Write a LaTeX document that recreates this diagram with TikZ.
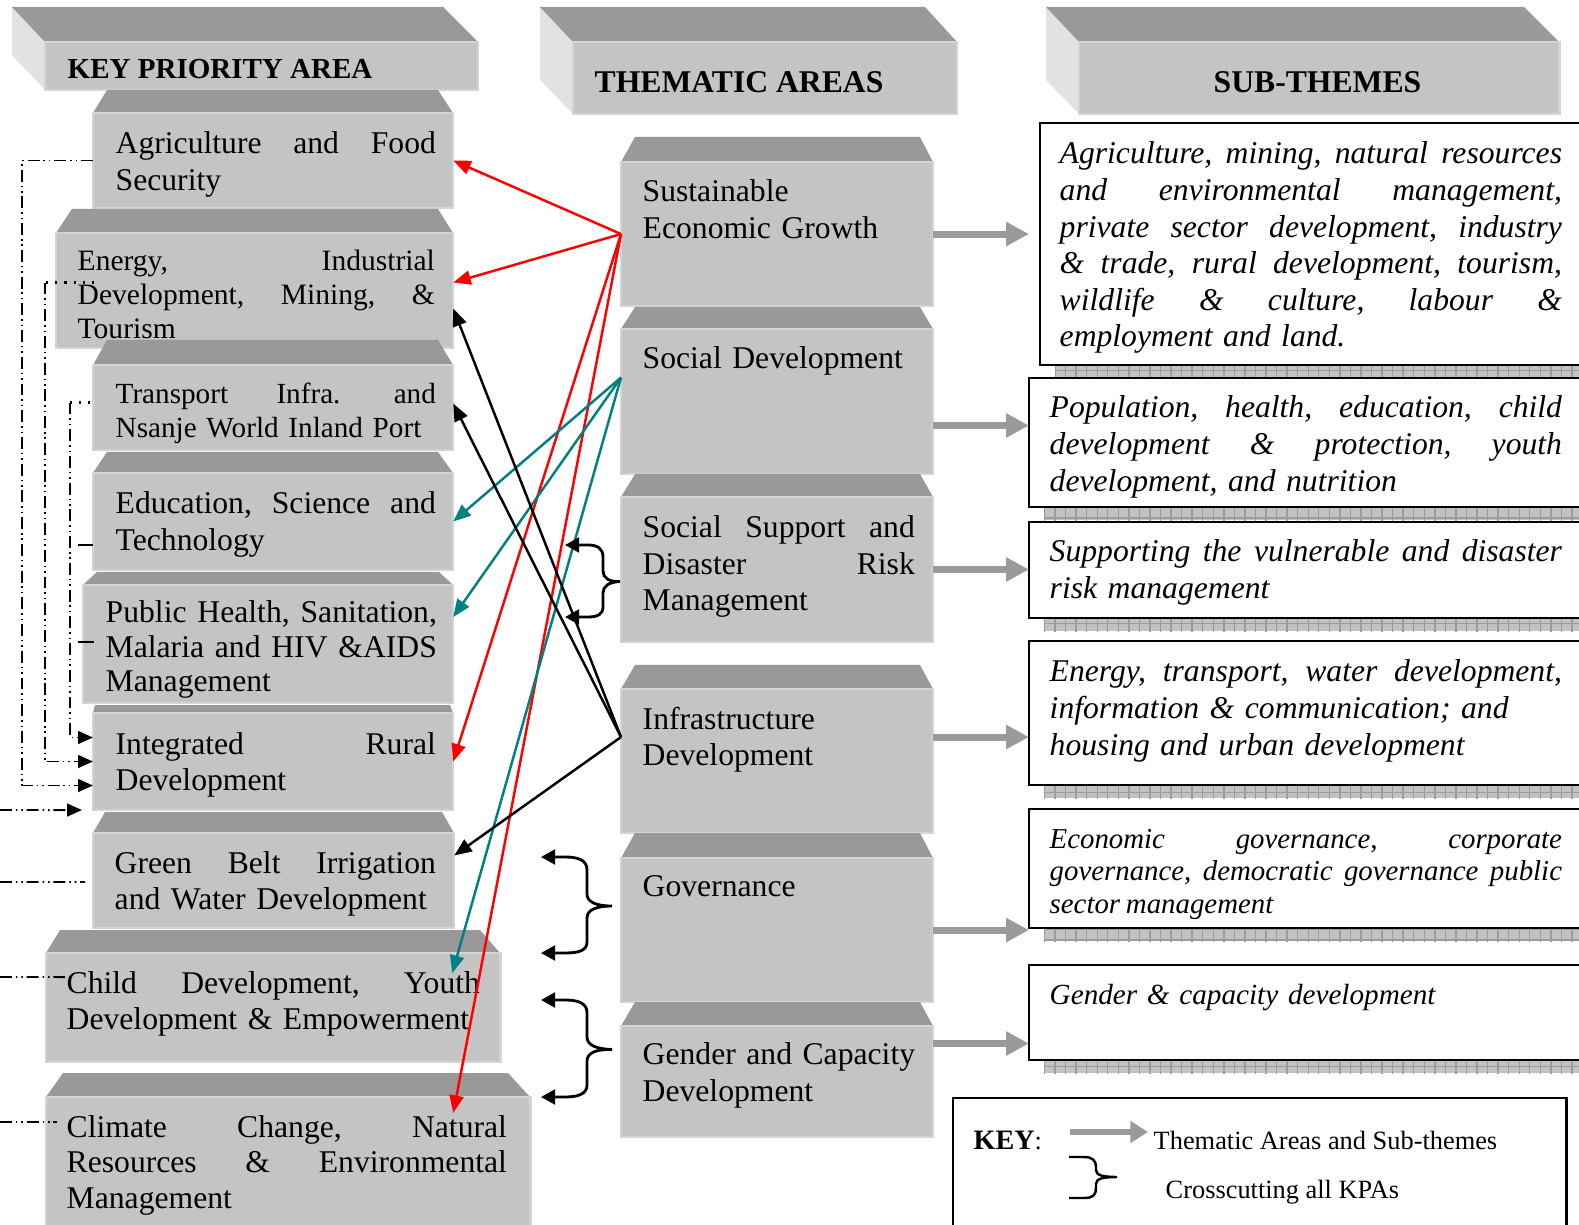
\documentclass[tikz,border=0pt]{standalone}
\usepackage{fontspec}
\setmainfont{Liberation Serif}
\usetikzlibrary{arrows.meta,calc,patterns,shadows}

\definecolor{topgray}{HTML}{999999}
\definecolor{frontgray}{HTML}{C4C4C4}
\definecolor{sidegray}{HTML}{E2E2E2}
\definecolor{edgegray}{HTML}{D4D4D4}
\definecolor{arrgray}{HTML}{9A9A9A}
\definecolor{shadegray}{HTML}{C2C2C2}
\definecolor{gridgray}{HTML}{9C9C9C}

\newcommand{\jfill}{\hspace{0pt plus 1filll}}

\tikzset{
  front/.style={fill=frontgray, draw=edgegray, line width=0.7pt, anchor=north west, inner sep=0pt, outer sep=0pt},
  subbox/.style={draw=black, fill=white, line width=0.6pt, anchor=north west, inner sep=0pt, outer sep=0pt, minimum width=5.8cm,
    general shadow={fill=shadegray, shadow xshift=0.15cm, shadow yshift=-0.13cm},
    general shadow={pattern=grid, pattern color=gridgray, shadow xshift=0.15cm, shadow yshift=-0.13cm}},
  txt/.style={anchor=base west, inner sep=0pt, align=left, font=\fontsize{9}{10.5}\selectfont},
  subtxt/.style={txt, font=\fontsize{9}{10.4}\selectfont\itshape},
  head/.style={anchor=base west, inner sep=0pt, font=\fontsize{9}{10}\selectfont\bfseries},
  keytxt/.style={anchor=base west, inner sep=0pt, font=\fontsize{7.5}{9}\selectfont},
  link/.style={line width=0.7pt, -{Triangle[length=5pt,width=4pt]}},
  tharr/.style={arrgray, line width=2pt, -{Triangle[length=6.5pt,width=6.5pt]}},
  brc/.style={line width=0.8pt, {Triangle[length=4pt,width=4.2pt]}-{Triangle[length=4pt,width=4.2pt]}},
  ddd/.style={line width=0.55pt, dash pattern=on 3.4pt off 1.1pt on 0.45pt off 1.1pt on 0.45pt off 1.1pt},
  ddtip/.style={-{Triangle[length=4.2pt,width=3.6pt]}}
}

\begin{document}
\begin{tikzpicture}[x=0.01cm, y=-0.01cm]
\useasboundingbox (0,0) rectangle (1579,1225);

% column headers
\fill[sidegray] (12,7) -- (45,42) -- (45,90) -- (12,55) -- cycle;
\fill[topgray] (12,7) -- (443,7) -- (478,42) -- (45,42) -- cycle;
\node[front, minimum width=4.33cm, minimum height=0.48cm] (kpaH) at (45,42) {};
\node[head, font=\fontsize{8.25}{10}\selectfont\bfseries] (kpaHT) at (67,79) {KEY PRIORITY AREA};

\fill[sidegray] (540,7) -- (573,42) -- (573,114) -- (540,80) -- cycle;
\fill[topgray] (540,7) -- (925,7) -- (957,42) -- (573,42) -- cycle;
\node[front, minimum width=3.84cm, minimum height=0.72cm] (themH) at (573,42) {};
\node[head] (themHT) at (594,93) {THEMATIC AREAS};

\fill[sidegray] (1046,7) -- (1079,42) -- (1079,114) -- (1046,80) -- cycle;
\fill[topgray] (1046,7) -- (1524,7) -- (1559,42) -- (1079,42) -- cycle;
\node[front, minimum width=4.80cm, minimum height=0.72cm] (subH) at (1079,42) {};
\node[head] (subHT) at (1213,93) {SUB-THEMES};

% key priority areas
\fill[topgray] (107,90) -- (438,90) -- (453,113) -- (93,113) -- cycle;
\node[front, minimum width=3.60cm, minimum height=0.95cm] (agr) at (93,113) {};
\node[txt, text width=3.20cm] (agrT) at (115,154) {Agriculture \jfill and \jfill Food\\Security};

\fill[topgray] (72,209) -- (438,209) -- (453,233) -- (56,233) -- cycle;
\node[front, minimum width=3.97cm, minimum height=1.15cm] (energy) at (56,233) {};
\node[txt, text width=3.57cm, font=\fontsize{8.4}{9.6}\selectfont] (energyT) at (77,271) {Energy, \jfill Industrial\\Development, \jfill Mining, \jfill \&\\Tourism};

\fill[topgray] (107,340) -- (438,340) -- (453,365) -- (93,365) -- cycle;
\node[front, minimum width=3.60cm, minimum height=0.85cm] (transport) at (93,365) {};
\node[txt, text width=3.20cm, font=\fontsize{8.3}{9.6}\selectfont] (transportT) at (115,404) {Transport \jfill Infra. \jfill and\\Nsanje World Inland Port};

\fill[topgray] (107,452) -- (438,452) -- (453,473) -- (93,473) -- cycle;
\node[front, minimum width=3.60cm, minimum height=0.97cm] (edu) at (93,473) {};
\node[txt, text width=3.20cm] (eduT) at (115,514) {Education, \jfill Science \jfill and\\Technology};

\fill[topgray] (97,572) -- (439,572) -- (453,585) -- (83,585) -- cycle;
\node[front, minimum width=3.70cm, minimum height=1.18cm] (pub) at (83,585) {};
\node[txt, text width=3.31cm, font=\fontsize{9}{9.7}\selectfont] (pubT) at (105,623) {Public \jfill Health, \jfill Sanitation,\\Malaria \jfill and \jfill HIV \jfill \&AIDS\\Management};

\fill[topgray] (95,705) -- (450,705) -- (453,713) -- (93,713) -- cycle;
\node[front, minimum width=3.60cm, minimum height=0.97cm] (rural) at (93,713) {};
\node[txt, text width=3.20cm] (ruralT) at (115,754) {Integrated \jfill Rural\\Development};

\fill[topgray] (105,812) -- (442,812) -- (454,833) -- (93,833) -- cycle;
\node[front, minimum width=3.61cm, minimum height=0.95cm] (green) at (93,833) {};
\node[txt, text width=3.21cm] (greenT) at (114,873) {Green \jfill Belt \jfill Irrigation\\and Water Development};

\fill[topgray] (60,930) -- (480,930) -- (500,953) -- (46,953) -- cycle;
\node[front, minimum width=4.54cm, minimum height=1.09cm] (child) at (46,953) {};
\node[txt, text width=4.13cm] (childT) at (66,993) {Child \jfill Development, \jfill Youth\\Development \& Empowerment};

\fill[topgray] (63,1073) -- (508,1073) -- (530,1097) -- (46,1097) -- cycle;
\node[front, minimum width=4.84cm, minimum height=1.50cm] (climate) at (46,1097) {};
\node[txt, text width=4.40cm, font=\fontsize{9}{10.2}\selectfont] (climateT) at (66,1137) {Climate \jfill Change, \jfill Natural\\Resources \jfill \& \jfill Environmental\\Management};

% thematic areas
\fill[topgray] (635,137) -- (920,137) -- (933,162) -- (621,162) -- cycle;
\node[front, minimum width=3.12cm, minimum height=1.44cm] (seg) at (621,162) {};
\node[txt, text width=3.0cm] (segT) at (642,202) {Sustainable\\Economic Growth};

\fill[topgray] (635,307) -- (920,307) -- (933,329) -- (621,329) -- cycle;
\node[front, minimum width=3.12cm, minimum height=1.45cm] (socdev) at (621,329) {};
\node[txt, text width=3.0cm] (socdevT) at (642,369) {Social Development};

\fill[topgray] (635,474) -- (920,474) -- (933,497) -- (621,497) -- cycle;
\node[front, minimum width=3.12cm, minimum height=1.45cm] (socsup) at (621,497) {};
\node[txt, text width=2.72cm, font=\fontsize{9}{10.35}\selectfont] (socsupT) at (642,538) {Social \jfill Support \jfill and\\Disaster \jfill Risk\\Management};

\fill[topgray] (635,665) -- (920,665) -- (933,689) -- (621,689) -- cycle;
\node[front, minimum width=3.12cm, minimum height=1.44cm] (infra) at (621,689) {};
\node[txt, text width=3.0cm] (infraT) at (642,729) {Infrastructure\\Development};

\fill[topgray] (635,833) -- (920,833) -- (933,858) -- (621,858) -- cycle;
\node[front, minimum width=3.12cm, minimum height=1.44cm] (gov) at (621,858) {};
\node[txt, text width=3.0cm] (govT) at (642,896) {Governance};

\fill[topgray] (635,1002) -- (920,1002) -- (933,1026) -- (621,1026) -- cycle;
\node[front, minimum width=3.12cm, minimum height=1.11cm] (gender) at (621,1026) {};
\node[txt, text width=3.0cm, font=\fontsize{9}{10.8}\selectfont] (genderT) at (642,1064) {Gender and Capacity\\Development};

% sub-themes
\node[subbox, minimum height=2.42cm] (sub1) at (1040,123) {};
\node[subtxt, text width=5.02cm] (sub1T) at (1059,164) {Agriculture, \jfill mining, \jfill natural \jfill resources\\and \jfill environmental \jfill management,\\private \jfill sector \jfill development, \jfill industry\\\& \jfill trade, \jfill rural \jfill development, \jfill tourism,\\wildlife \jfill \& \jfill culture, \jfill labour \jfill \&\\employment and land.};

\node[subbox, minimum height=1.29cm] (sub2) at (1029,378) {};
\node[subtxt, text width=5.12cm] (sub2T) at (1049,418) {Population, \jfill health, \jfill education, \jfill child\\development \jfill \& \jfill protection, \jfill youth\\development, and nutrition};

\node[subbox, minimum height=0.96cm] (sub3) at (1029,522) {};
\node[subtxt, text width=5.12cm] (sub3T) at (1049,562) {Supporting \jfill the \jfill vulnerable \jfill and \jfill disaster\\risk management};

\node[subbox, minimum height=1.44cm] (sub4) at (1029,641) {};
\node[subtxt, text width=5.12cm] (sub4T) at (1049,682) {Energy, \jfill transport, \jfill water \jfill development,\\information \& communication; and\\housing and urban development};

\node[subbox, minimum height=1.19cm] (sub5) at (1029,809) {};
\node[subtxt, text width=5.12cm, font=\fontsize{8.2}{9.35}\selectfont\itshape] (sub5T) at (1049,848) {\spaceskip=0.2em plus 0.1em minus 0.05em\relax Economic \jfill governance, \jfill corporate\\governance, \jfill democratic \jfill governance \jfill public\\sector management};

\node[subbox, minimum height=0.95cm] (sub6) at (1029,965) {};
\node[subtxt, text width=5.12cm, font=\fontsize{8.3}{9.35}\selectfont\itshape] (sub6T) at (1049,1004) {Gender \& capacity development};

% thematic areas to sub-themes
\coordinate (a2) at ($(socdev.east)+(0,24)$);
\coordinate (a4) at ($(infra.east)+(0,-24)$);
\coordinate (a6) at ($(gender.east)+(0,-38)$);
\draw[tharr] (seg.east) -- (seg.east -| sub2.west);
\draw[tharr] (a2) -- (a2 -| sub2.west);
\draw[tharr] (socsup.east) -- (socsup.east -| sub3.west);
\draw[tharr] (a4) -- (a4 -| sub4.west);
\draw[tharr] (gov.east) -- (gov.east -| sub5.west);
\draw[tharr] (a6) -- (a6 -| sub6.west);

% links from thematic areas to KPAs
\coordinate (segL) at (seg.west);
\coordinate (sdL) at ($(socdev.west)+(0,-24)$);
\coordinate (infL) at ($(infra.west)+(0,-24)$);
\draw[link, red] (segL) -- (agr.east);
\draw[link, red] (segL) -- ($(energy.east)+(0,-8)$);
\draw[link, red] (segL) -- (rural.east);
\draw[link, red] (segL) -- ($(climate.north east)+(-77,16)$);
\draw[link, teal] (sdL) -- (edu.east);
\draw[link, teal] (sdL) -- ($(pub.east)+(0,-27)$);
\draw[link, teal] (sdL) -- ($(child.north east)+(-48,20)$);
\draw[link] (infL) -- ($(energy.east)+(0,18)$);
\draw[link] (infL) -- ($(transport.east)+(0,-4)$);
\draw[link] (infL) -- ($(green.east)+(0,-25)$);

% crosscutting braces
\coordinate (b1m) at ($(socsup.west)+(-1,12)$);
\coordinate (b2m) at ($(gov.west)+(-9,-24)$);
\coordinate (b3m) at ($(gender.west)+(-9,-32)$);
\draw[brc] (565,545) -- (588,545) .. controls (598,545) and (603,549) .. (603,557) -- (603,571) .. controls (603,578) and (609,582) .. (b1m) .. controls (609,582) and (603,586) .. (603,593) -- (603,607) .. controls (603,614) and (598,617) .. (588,617) -- (565,617);
\draw[brc] (541,857) -- (565,857) .. controls (580,857) and (587,861) .. (587,870) -- (587,894) .. controls (587,902) and (596,906) .. (b2m) .. controls (596,906) and (587,910) .. (587,918) -- (587,942) .. controls (587,950) and (580,953) .. (565,953) -- (541,953);
\draw[brc] (541,1000) -- (565,1000) .. controls (580,1000) and (587,1004) .. (587,1013) -- (587,1037) .. controls (587,1045) and (596,1049) .. (b3m) .. controls (596,1049) and (587,1053) .. (587,1061) -- (587,1085) .. controls (587,1093) and (580,1097) .. (565,1097) -- (541,1097);

% links into integrated rural development
\draw[ddd, ddtip] (agr.west) -- ++(-71,0) |- ($(rural.west)+(0,24)$);
\draw[dotted, line width=0.6pt] ($(energy.west)+(38,-8)$) -- ++(-49,0) coordinate (bB);
\draw[ddd, ddtip] (bB) |- (rural.west);
\draw[dotted, line width=0.6pt] ($(transport.west)+(-3,-5)$) -- ++(-20,0) coordinate (cC);
\draw[ddd, ddtip] (cC) |- ($(rural.west)+(0,-24)$);
\draw[line width=0.6pt] ($(edu.west)+(-15,23.5)$) -- ($(edu.west)+(0,23.5)$);
\draw[line width=0.6pt] ($(pub.west)+(-5,-2)$) -- ($(pub.west)+(11,-2)$);
\coordinate (edgeD) at (0,810);
\coordinate (edgeE) at (0,882);
\coordinate (edgeF) at (0,977);
\coordinate (edgeG) at (0,1122);
\draw[ddd, ddtip] (edgeD) -- ($(rural.south west)+(-11,0)$);
\draw[ddd] (edgeE) -- ($(green.west)+(-8,1.5)$);
\draw[ddd] (edgeF) -- ($(child.west)+(19,-30.5)$);
\draw[ddd] (edgeG) -- ($(climate.north west)+(11,25)$);

% key
\node[draw, line width=0.7pt, anchor=north west, inner sep=0pt, outer sep=0pt, minimum width=6.13cm, minimum height=1.5cm] (keyb) at (953,1098) {};
\node[keytxt] (keyT) at (973,1149) {{\fontsize{8}{9}\selectfont\bfseries KEY}:};
\coordinate (k1) at (1070,1132);
\coordinate (k2) at (1148,1132);
\draw[arrgray, line width=1.7pt, -{Triangle[length=5pt,width=6pt]}] (k1) -- (k2);
\node[keytxt] (keyA) at (1153,1149) {Thematic Areas and Sub-themes};
\draw[line width=0.7pt] (1069,1157) -- (1084,1157) .. controls (1093,1157) and (1096,1161) .. (1096,1167) -- (1096,1170) .. controls (1096,1175) and (1102,1177) .. (1117,1177) .. controls (1102,1177) and (1096,1179) .. (1096,1184) -- (1096,1188) .. controls (1096,1195) and (1093,1198) .. (1084,1198) -- (1069,1198);
\node[keytxt] (keyB) at (1165,1198) {Crosscutting all KPAs};
\end{tikzpicture}
\end{document}
